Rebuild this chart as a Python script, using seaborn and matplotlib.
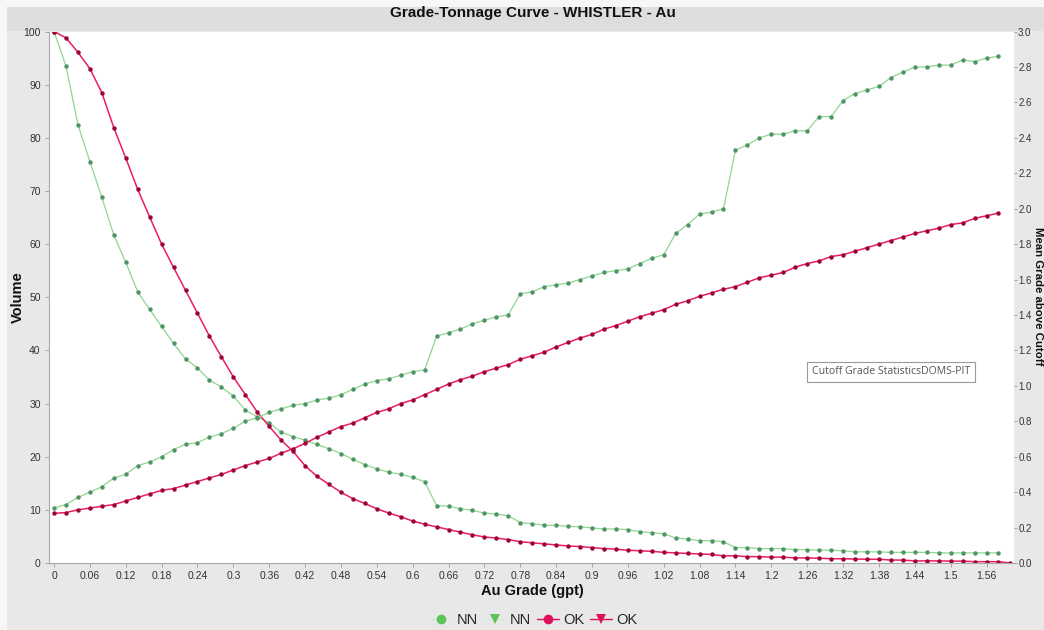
import matplotlib
matplotlib.use("Agg")
import matplotlib.pyplot as plt
import seaborn as sns
import pandas as pd
from matplotlib.lines import Line2D
from matplotlib.patches import Rectangle

# ---------------- data ----------------
cutoff = [0.00, 0.02, 0.04, 0.06, 0.08, 0.10, 0.12, 0.14, 0.16, 0.18,
          0.20, 0.22, 0.24, 0.26, 0.28, 0.30, 0.32, 0.34, 0.36, 0.38,
          0.40, 0.42, 0.44, 0.46, 0.48, 0.50, 0.52, 0.54, 0.56, 0.58,
          0.60, 0.62, 0.64, 0.66, 0.68, 0.70, 0.72, 0.74, 0.76, 0.78,
          0.80, 0.82, 0.84, 0.86, 0.88, 0.90, 0.92, 0.94, 0.96, 0.98,
          1.00, 1.02, 1.04, 1.06, 1.08, 1.10, 1.12, 1.14, 1.16, 1.18,
          1.20, 1.22, 1.24, 1.26, 1.28, 1.30, 1.32, 1.34, 1.36, 1.38,
          1.40, 1.42, 1.44, 1.46, 1.48, 1.50, 1.52, 1.54, 1.56, 1.58,
          1.60]

# Volume (%) above cutoff - left axis
nn_volume = [100, 93.5, 82.5, 75.5, 68.8, 61.7, 56.6, 51.0, 47.7, 44.5,
             41.3, 38.4, 36.7, 34.4, 33.1, 31.4, 28.8, 27.5, 26.4, 24.6,
             23.8, 23.1, 22.3, 21.5, 20.6, 19.5, 18.5, 17.7, 17.1, 16.7,
             16.1, 15.3, 10.8, 10.7, 10.2, 9.9, 9.4, 9.2, 8.9, 7.6,
             7.4, 7.1, 7.1, 6.9, 6.8, 6.6, 6.4, 6.4, 6.3, 5.9,
             5.7, 5.5, 4.7, 4.5, 4.2, 4.2, 4.0, 2.9, 2.9, 2.7,
             2.7, 2.7, 2.5, 2.5, 2.4, 2.4, 2.3, 2.1, 2.1, 2.1,
             2.0, 2.0, 2.0, 2.0, 1.9, 1.9, 1.9, 1.9, 1.9, 1.9]

ok_volume = [100, 98.8, 96.1, 93.0, 88.5, 81.9, 76.2, 70.3, 65.1, 60.0,
             55.6, 51.3, 47.0, 42.7, 38.8, 35.0, 31.7, 28.4, 25.7, 23.1,
             21.0, 18.3, 16.3, 14.8, 13.3, 12.1, 11.2, 10.2, 9.4, 8.7,
             7.9, 7.3, 6.8, 6.3, 5.8, 5.3, 4.9, 4.7, 4.4, 4.0,
             3.8, 3.6, 3.4, 3.2, 3.1, 2.9, 2.7, 2.6, 2.4, 2.3,
             2.2, 2.0, 1.9, 1.8, 1.7, 1.6, 1.35, 1.35, 1.2, 1.2,
             1.1, 1.1, 0.95, 0.95, 0.9, 0.8, 0.8, 0.75, 0.7, 0.7,
             0.55, 0.55, 0.4, 0.4, 0.4, 0.35, 0.35, 0.25, 0.25, 0.25,
             0.0]

# Mean grade above cutoff (gpt) - right axis
nn_grade = [0.31, 0.33, 0.37, 0.40, 0.43, 0.48, 0.50, 0.55, 0.57, 0.60,
            0.64, 0.67, 0.68, 0.71, 0.73, 0.76, 0.80, 0.82, 0.85, 0.87,
            0.89, 0.90, 0.92, 0.93, 0.95, 0.98, 1.01, 1.03, 1.04, 1.06,
            1.08, 1.09, 1.28, 1.30, 1.32, 1.35, 1.37, 1.39, 1.40, 1.52,
            1.53, 1.56, 1.57, 1.58, 1.60, 1.62, 1.64, 1.65, 1.66, 1.69,
            1.72, 1.74, 1.86, 1.91, 1.97, 1.98, 2.00, 2.33, 2.36, 2.40,
            2.42, 2.42, 2.44, 2.44, 2.52, 2.52, 2.61, 2.65, 2.67, 2.69,
            2.74, 2.77, 2.80, 2.80, 2.81, 2.81, 2.84, 2.83, 2.85, 2.86]

ok_grade = [0.28, 0.285, 0.30, 0.31, 0.32, 0.33, 0.35, 0.37, 0.39, 0.41,
            0.42, 0.44, 0.46, 0.48, 0.50, 0.525, 0.55, 0.57, 0.59, 0.62,
            0.645, 0.675, 0.71, 0.74, 0.77, 0.79, 0.82, 0.85, 0.87, 0.90,
            0.92, 0.95, 0.98, 1.01, 1.035, 1.055, 1.08, 1.10, 1.12, 1.15,
            1.17, 1.19, 1.22, 1.245, 1.27, 1.29, 1.32, 1.34, 1.365, 1.39,
            1.41, 1.43, 1.46, 1.48, 1.505, 1.525, 1.545, 1.56, 1.585, 1.61,
            1.625, 1.64, 1.67, 1.69, 1.705, 1.73, 1.74, 1.76, 1.78, 1.80,
            1.82, 1.84, 1.86, 1.875, 1.89, 1.91, 1.92, 1.945, 1.96, 1.975]

xtick_values = [0, 0.06, 0.12, 0.18, 0.24, 0.3, 0.36, 0.42, 0.48, 0.54,
                0.6, 0.66, 0.72, 0.78, 0.84, 0.9, 0.96, 1.02, 1.08, 1.14,
                1.2, 1.26, 1.32, 1.38, 1.44, 1.5, 1.56]
xtick_labels = ["0", "0.06", "0.12", "0.18", "0.24", "0.3", "0.36", "0.42",
                "0.48", "0.54", "0.6", "0.66", "0.72", "0.78", "0.84", "0.9",
                "0.96", "1.02", "1.08", "1.14", "1.2", "1.26", "1.32", "1.38",
                "1.44", "1.5", "1.56"]
ytick_left = [0, 10, 20, 30, 40, 50, 60, 70, 80, 90, 100]
ytick_right = [0.0, 0.2, 0.4, 0.6, 0.8, 1.0, 1.2, 1.4, 1.6, 1.8, 2.0,
               2.2, 2.4, 2.6, 2.8, 3.0]
legend_labels = ["NN", "NN", "OK", "OK"]

title = "Grade-Tonnage Curve - WHISTLER - Au"
xlabel = "Au Grade (gpt)"
ylabel = "Volume"
y2label = "Mean Grade above Cutoff"
note = "Cutoff Grade StatisticsDOMS-PIT"

# ---------------- style ----------------
sns.set_theme(style="white")
plt.rcParams['font.family'] = ['Liberation Sans', 'DejaVu Sans']

W, H = 1044, 630
NN_LINE, NN_MARK, NN_LEG = '#8fd68f', '#4f9466', '#5cc25c'
OK_LINE, OK_MARK, OK_LEG = '#ec1d5f', '#9a0535', '#e0105a'

fig = plt.figure(figsize=(W / 100, H / 100), dpi=100, facecolor='#f7f7f7')
fig.patches.append(Rectangle((7 / W, 0), 1, 1 - 7 / H, transform=fig.transFigure,
                             fc='#e8e8e8', ec='none', zorder=-10))
fig.patches.append(Rectangle((7 / W, 1 - 31 / H), 1, 24 / H, transform=fig.transFigure,
                             fc='#dedede', ec='none', zorder=-9))

ax = fig.add_axes([49 / W, 1 - 563 / H, (1014 - 49) / W, (563 - 31.5) / H])
ax.set_facecolor('white')
ax2 = ax.twinx()

df_nn_v = pd.DataFrame({'cutoff': cutoff[:len(nn_volume)], 'value': nn_volume})
df_ok_v = pd.DataFrame({'cutoff': cutoff[:len(ok_volume)], 'value': ok_volume})
df_nn_g = pd.DataFrame({'cutoff': cutoff[:len(nn_grade)], 'value': nn_grade})
df_ok_g = pd.DataFrame({'cutoff': cutoff[:len(ok_grade)], 'value': ok_grade})

common = dict(x='cutoff', y='value', legend=False, markeredgewidth=0, markersize=3.2)
sns.lineplot(data=df_nn_v, ax=ax, color=NN_LINE, linewidth=0.9, marker='o',
             markerfacecolor=NN_MARK, **common)
sns.lineplot(data=df_ok_v, ax=ax, color=OK_LINE, linewidth=1.1, marker='o',
             markerfacecolor=OK_MARK, **common)
sns.lineplot(data=df_nn_g, ax=ax2, color=NN_LINE, linewidth=0.9, marker='o',
             markerfacecolor=NN_MARK, **common)
sns.lineplot(data=df_ok_g, ax=ax2, color=OK_LINE, linewidth=1.1, marker='o',
             markerfacecolor=OK_MARK, **common)

ax.set_xlim(-0.0084, 1.606)
ax.set_ylim(0, 100)
ax2.set_ylim(0, 3.0)
ax.set_xlabel('')
ax.set_ylabel('')
ax2.set_ylabel('')

ax.set_xticks(xtick_values)
ax.set_xticklabels(xtick_labels)
ax.set_yticks(ytick_left)
ax.set_yticklabels([str(v) for v in ytick_left])
ax2.set_yticks(ytick_right)
ax2.set_yticklabels([f"{v:.1f}" for v in ytick_right])

ax.tick_params(axis='both', bottom=True, left=True, length=3, width=0.6,
               color='#9a9a9a', labelsize=7.5, labelcolor='#333333', pad=3)
ax2.tick_params(axis='y', right=True, length=2, width=0.6, color='#9a9a9a',
                labelsize=7, labelcolor='#333333', pad=1)

for s in ['top', 'right']:
    ax.spines[s].set_visible(False)
for s in ['left', 'bottom']:
    ax.spines[s].set_color('#a8a8a8')
    ax.spines[s].set_linewidth(0.8)
for s in ax2.spines.values():
    s.set_visible(False)

# texts
fig.text(533 / W, 1 - 13 / H, title, ha='center', va='center',
         fontsize=11, fontweight='bold', color='#111111')
fig.text(532 / W, 1 - 591 / H, xlabel, ha='center', va='center',
         fontsize=10.5, fontweight='bold', color='#111111')
fig.text(18 / W, 1 - 297 / H, ylabel, ha='center', va='center', rotation=90,
         fontsize=10.5, fontweight='bold', color='#111111')
fig.text(1037.6 / W, 1 - 296 / H, y2label, ha='center', va='center', rotation=270,
         fontsize=8.2, fontweight='bold', color='#111111')
fig.text(891 / W, 1 - 372 / H, note, ha='center', va='center', fontsize=7.6,
         family=['Open Sans', 'DejaVu Sans'], color='#555555',
         bbox=dict(boxstyle='square,pad=0.45', fc='white', ec='#9a9a9a', lw=0.8))

# legend
handles = [
    Line2D([], [], color='#d2eed2', lw=0.8, marker='o', markersize=7,
           markerfacecolor=NN_LEG, markeredgewidth=0),
    Line2D([], [], color='#d2eed2', lw=0.8, marker='v', markersize=7,
           markerfacecolor=NN_LEG, markeredgewidth=0),
    Line2D([], [], color=OK_LEG, lw=1.0, marker='o', markersize=7,
           markerfacecolor=OK_LEG, markeredgewidth=0),
    Line2D([], [], color=OK_LEG, lw=1.0, marker='v', markersize=7,
           markerfacecolor=OK_LEG, markeredgewidth=0),
]
fig.legend(handles, legend_labels, loc='center', bbox_to_anchor=(534 / W, 1 - 620 / H),
           ncol=4, frameon=False, fontsize=10.5, handlelength=1.5,
           handletextpad=0.3, columnspacing=0.4, borderpad=0)

fig.savefig('out.png', dpi=100, facecolor=fig.get_facecolor())
